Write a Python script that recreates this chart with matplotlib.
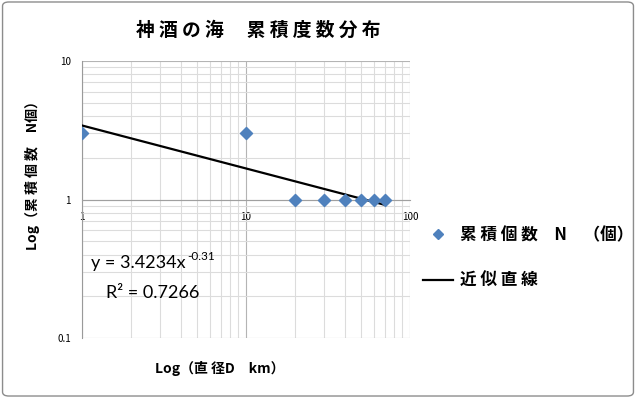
import numpy as np
import matplotlib.pyplot as plt
from matplotlib.patches import FancyBboxPatch
from matplotlib.lines import Line2D

plt.rcParams['font.family'] = ['Noto Sans CJK JP', 'DejaVu Sans']

# 直径D (km) と 累積個数N
diameter = [1, 10, 20, 30, 40, 50, 60, 70]
count = [3, 3, 1, 1, 1, 1, 1, 1]

# 累乗近似 (log-log の一次回帰)
b, log_a = np.polyfit(np.log(diameter), np.log(count), 1)
a = np.exp(log_a)
r2 = np.corrcoef(np.log(diameter), np.log(count))[0, 1] ** 2
xfit = np.geomspace(diameter[0], diameter[-1], 50)
yfit = a * xfit ** b

fig = plt.figure(figsize=(6.36, 3.98), dpi=100)
fig.patches.append(FancyBboxPatch((0.004, 0.005), 0.992, 0.99, boxstyle="round,pad=0,rounding_size=0.01",
                                  transform=fig.transFigure, fill=False, edgecolor='#8c8c8c', linewidth=1))
ax = fig.add_axes([82 / 636, 1 - 338 / 398, 328 / 636, 277 / 398])
ax.set_xscale('log')
ax.set_yscale('log')
ax.set_xlim(1, 100)
ax.set_ylim(0.1, 10)

ax.grid(True, which='major', color='#b4b4b4', linewidth=0.8)
ax.grid(True, which='minor', color='#dcdcdc', linewidth=0.8)
ax.set_axisbelow(True)

ax.plot(xfit, yfit, color='black', linewidth=1.6, zorder=3)
ax.scatter(diameter, count, marker='D', s=38, color='#4f81bd', zorder=4)

for s in ['top', 'right']:
    ax.spines[s].set_visible(False)
ax.spines['left'].set_color('#9a9a9a')
ax.spines['bottom'].set_position(('data', 1))
ax.spines['bottom'].set_color('#a0a0a0')
ax.tick_params(which='both', length=0)
ax.tick_params(axis='x', labelsize=7, pad=9)
ax.tick_params(axis='y', labelsize=7, pad=8)
ax.set_xticks([1, 10, 100], ['1', '10', '100'])
ax.set_yticks([0.1, 1, 10], ['0.1', '1', '10'])
ax.xaxis.set_minor_formatter(plt.NullFormatter())
ax.yaxis.set_minor_formatter(plt.NullFormatter())

fig.text(258 / 636, 1 - 30 / 398, '神 酒 の 海　 累 積 度 数 分 布', ha='center', va='center',
         fontsize=13.5, fontweight='bold')
fig.text(220 / 636, 1 - 368 / 398, 'Log（直 径D　km）', ha='center', va='center',
         fontsize=10, fontweight='bold')
fig.text(33 / 636, 1 - 172 / 398, 'Log（累 積 個 数　N個）', ha='center', va='center',
         fontsize=10, fontweight='bold', rotation=90)

eq_font = ['Lato', 'DejaVu Sans']
t = fig.text(91 / 636, 1 - 268 / 398, 'y = %.4fx' % a, ha='left', va='baseline',
             fontsize=13, family=eq_font)
fig.canvas.draw()
bb = t.get_window_extent()
fig.text(bb.x1 / 636 + 0.002, 1 - 260 / 398, '%.2f' % b, ha='left', va='baseline',
         fontsize=8.5, family=eq_font)
fig.text(106 / 636, 1 - 298 / 398, 'R² = %.4f' % r2, ha='left', va='baseline',
         fontsize=13, family=eq_font)

handles = [Line2D([], [], marker='D', linestyle='none', color='#4f81bd', markersize=5),
           Line2D([], [], color='black', linewidth=1.6)]
fig.legend(handles, ['累 積 個 数　N　（個）', '近 似 直 線'], loc='center left',
           bbox_to_anchor=(408 / 636, 1 - 258 / 398), frameon=False,
           prop={'size': 12, 'weight': 'bold'}, handlelength=1.8, handletextpad=0.4,
           labelspacing=1.7)

fig.savefig('out.png', dpi=100)
